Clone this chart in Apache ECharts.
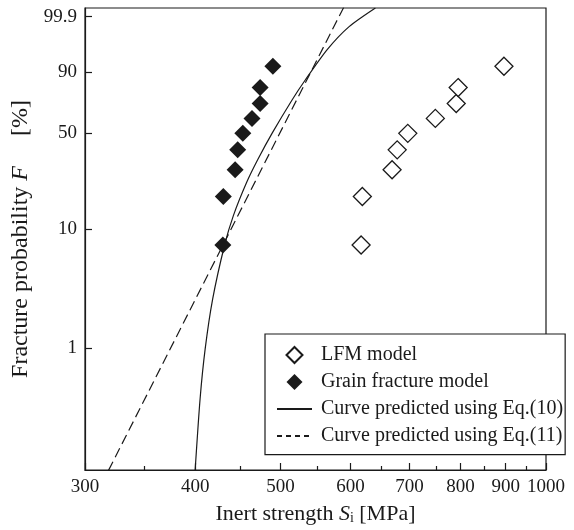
<!DOCTYPE html>
<html>
<head>
<meta charset="utf-8">
<title>Fracture probability vs inert strength</title>
<script src="https://cdn.jsdelivr.net/npm/echarts@6/dist/echarts.min.js"></script>
<style>
  html, body { margin: 0; padding: 0; background: #fff; }
  #chart { width: 574px; height: 530px; }
</style>
</head>
<body>
<div id="chart"></div>
<script>
// LFM model (open diamonds)
var lfmStrength = [617, 619, 669, 678, 697, 749, 791, 795, 896];
var lfmProb = [7.4, 18.1, 28.7, 39.4, 50.0, 60.6, 71.3, 81.9, 92.6];

// grain fracture model (filled diamonds)
var grainStrength = [430, 430.5, 444, 447, 453, 464, 474, 474, 490];
var grainProb = [7.4, 18.1, 28.7, 39.4, 50.0, 60.6, 71.3, 81.9, 92.6];

// curve Eq.(10) - solid
var eq10Strength = [400, 405.2, 410.6, 418.7, 431.9, 441.9, 457.5, 471.1, 489.3, 515.4, 533.5, 564.4, 598.0, 640.5];
var eq10Prob = [0.0911, 0.371, 0.986, 2.61, 7.36, 12.76, 23.13, 33.9, 50.32, 73.96, 86.37, 97.25, 99.658, 99.9725];

// curve Eq.(11) - dashed (straight on this paper)
var eq11Strength = [318.9, 589.5];
var eq11Prob = [0.09, 99.975];

// axis ticks
var xMajorTicks = [300, 400, 500, 600, 700, 800, 900, 1000];
var xMinorTicks = [350, 450, 550, 650, 750, 850, 950];
var yTickProb = [1, 10, 50, 90, 99.9];
var yTickLabels = ['1', '10', '50', '90', '99.9'];

var FONT = 'Liberation Serif';
var INK = '#1a1a1a';
// square diamond for the legend (built-in one gets stretched)
var DIAMOND = 'path://M0,-1L1,0L0,1L-1,0Z';

// weibull paper: y = ln(-ln(1-F))
function weib(p) {
    return Math.log(-Math.log(1 - p / 100));
}
function lg(v) {
    return Math.log10(v);
}
function pairs(xs, ps) {
    return xs.map(function (x, i) {
        return [lg(x), weib(ps[i])];
    });
}

var yMin = -7.0, yMax = 2.104;
var xMin = lg(300), xMax = 3;

var myChart = echarts.init(document.getElementById('chart'));

var option = {
    animation: false,
    backgroundColor: '#fff',
    grid: {
        left: 85,
        right: 28,
        top: 8,
        bottom: 58.5,
        show: true,
        borderColor: INK,
        borderWidth: 1.2,
        backgroundColor: 'transparent'
    },
    legend: {
        orient: 'vertical',
        left: 265,
        top: 334,
        padding: [11, 2, 8.7, 11],
        itemGap: 7,
        itemWidth: 35,
        itemHeight: 16,
        symbolKeepAspect: true,
        backgroundColor: '#fff',
        borderColor: INK,
        borderWidth: 1.2,
        textStyle: {
            fontFamily: FONT,
            fontSize: 20,
            lineHeight: 20,
            color: INK,
            padding: [0, 0, 0, 4]
        },
        data: [
            {name: 'LFM model', icon: DIAMOND, symbolKeepAspect: true},
            {name: 'Grain fracture model', icon: DIAMOND, symbolKeepAspect: true},
            {name: 'Curve predicted using Eq.(10)', itemStyle: {opacity: 0}},
            {name: 'Curve predicted using Eq.(11)', itemStyle: {opacity: 0}, lineStyle: {type: [5, 4]}}
        ]
    },
    xAxis: [
        {
            type: 'value',
            min: xMin,
            max: xMax,
            splitLine: {show: false},
            axisLine: {onZero: false, lineStyle: {color: INK, width: 1.2}},
            axisTick: {
                inside: true,
                length: 7,
                customValues: xMajorTicks.map(lg),
                lineStyle: {color: INK, width: 1.2}
            },
            axisLabel: {
                customValues: xMajorTicks.map(lg),
                margin: 8,
                fontFamily: FONT,
                fontSize: 19,
                color: INK,
                formatter: function (v) {
                    return String(Math.round(Math.pow(10, v)));
                }
            },
            name: 'Inert strength {i|S}{sub|i} [MPa]',
            nameLocation: 'middle',
            nameGap: 33,
            nameTextStyle: {
                fontFamily: FONT,
                fontSize: 22,
                color: INK,
                rich: {
                    i: {fontFamily: FONT, fontSize: 22, fontStyle: 'italic', color: INK},
                    sub: {fontFamily: FONT, fontSize: 14, color: INK, verticalAlign: 'bottom', lineHeight: 10}
                }
            }
        },
        {
            // minor ticks only
            type: 'value',
            min: xMin,
            max: xMax,
            position: 'bottom',
            splitLine: {show: false},
            axisLine: {show: false, onZero: false},
            axisLabel: {show: false},
            axisTick: {
                inside: true,
                length: 4,
                customValues: xMinorTicks.map(lg),
                lineStyle: {color: INK, width: 1.2}
            }
        }
    ],
    yAxis: {
        type: 'value',
        min: yMin,
        max: yMax,
        splitLine: {show: false},
        axisLine: {show: true, onZero: false, lineStyle: {color: INK, width: 1.2}},
        axisTick: {
            show: true,
            inside: true,
            length: 7,
            customValues: yTickProb.map(weib),
            lineStyle: {color: INK, width: 1.2}
        },
        axisLabel: {
            customValues: yTickProb.map(weib),
            margin: 8,
            fontFamily: FONT,
            fontSize: 19,
            color: INK,
            formatter: function (v) {
                var best = 0;
                for (var i = 1; i < yTickProb.length; i++) {
                    if (Math.abs(weib(yTickProb[i]) - v) < Math.abs(weib(yTickProb[best]) - v)) best = i;
                }
                return yTickLabels[best];
            }
        },
        name: 'Fracture probability {i|F}     [%]',
        nameLocation: 'middle',
        nameRotate: 90,
        nameGap: 45,
        nameTextStyle: {
            fontFamily: FONT,
            fontSize: 24,
            color: INK,
            rich: {
                i: {fontFamily: FONT, fontSize: 24, fontStyle: 'italic', color: INK}
            }
        }
    },
    series: [
        {
            name: 'LFM model',
            type: 'scatter',
            symbol: 'diamond',
            symbolSize: 18,
            itemStyle: {color: '#fff', borderColor: INK, borderWidth: 1.3, opacity: 1},
            data: pairs(lfmStrength, lfmProb),
            z: 3
        },
        {
            name: 'Grain fracture model',
            type: 'scatter',
            symbol: 'diamond',
            symbolSize: 17,
            itemStyle: {color: INK, opacity: 1},
            data: pairs(grainStrength, grainProb),
            z: 3
        },
        {
            name: 'Curve predicted using Eq.(10)',
            type: 'line',
            symbol: 'none',
            showSymbol: false,
            smooth: 0.25,
            lineStyle: {color: INK, width: 1.2},
            itemStyle: {color: INK},
            data: pairs(eq10Strength, eq10Prob),
            z: 2
        },
        {
            name: 'Curve predicted using Eq.(11)',
            type: 'line',
            symbol: 'none',
            showSymbol: false,
            lineStyle: {color: INK, width: 1.2, type: [10, 5]},
            itemStyle: {color: INK},
            data: pairs(eq11Strength, eq11Prob),
            z: 2
        }
    ]
};

if (option && typeof option === "object") {
    myChart.setOption(option, true);
}
</script>
</body>
</html>
